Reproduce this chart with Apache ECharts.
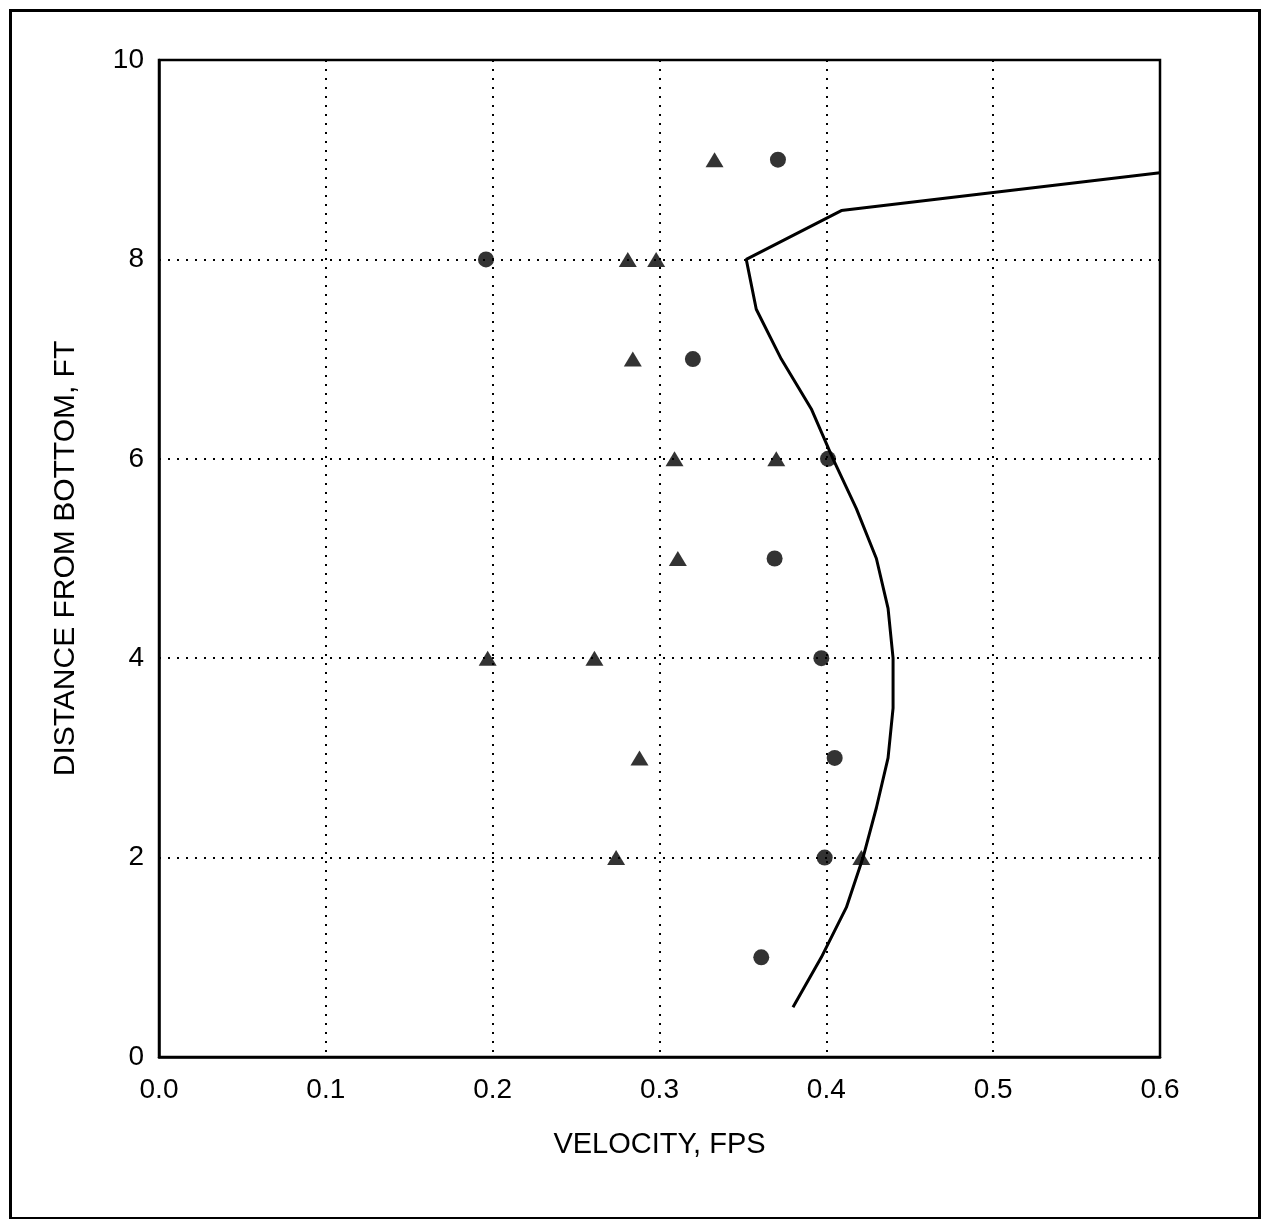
<!DOCTYPE html>
<html>
<head>
<meta charset="utf-8">
<script src="https://cdn.jsdelivr.net/npm/echarts@6/dist/echarts.min.js"></script>
<style>
html,body{margin:0;padding:0;background:#fff;}
#chart{width:1261px;height:1219px;}
</style>
</head>
<body>
<div id="chart"></div>
<script>
// Data (velocity in FPS, distance from bottom in FT)
const circleVelocity = [0.371, 0.196, 0.320, 0.401, 0.369, 0.397, 0.405, 0.399, 0.361];
const circleDistance = [9, 8, 7, 6, 5, 4, 3, 2, 1];

const triangleVelocity = [0.333, 0.281, 0.298, 0.284, 0.309, 0.370, 0.311, 0.197, 0.261, 0.288, 0.274, 0.421];
const triangleDistance = [9, 8, 8, 7, 6, 6, 5, 4, 4, 3, 2, 2];

const curveVelocity = [0.380, 0.397, 0.412, 0.422, 0.430, 0.437, 0.440, 0.440, 0.437, 0.430, 0.418, 0.404, 0.391, 0.373, 0.358, 0.352, 0.409, 0.600];
const curveDistance = [0.5, 1.0, 1.5, 2.0, 2.5, 3.0, 3.5, 4.0, 4.5, 5.0, 5.5, 6.0, 6.5, 7.0, 7.5, 8.0, 8.49, 8.87];

const xTicks = [0, 0.1, 0.2, 0.3, 0.4, 0.5, 0.6];
const yTicks = [0, 2, 4, 6, 8, 10];

const zip = (a, b) => a.map((v, i) => [v, b[i]]);

const chart = echarts.init(document.getElementById('chart'), null, {renderer: 'canvas'});
const font = 'Liberation Sans, Arial, Helvetica, sans-serif';

chart.setOption({
  animation: false,
  backgroundColor: '#ffffff',
  grid: {
    left: 159, right: 101, top: 60, bottom: 162,
    show: true, borderColor: '#000', borderWidth: 2.5, backgroundColor: 'transparent'
  },
  graphic: [{
    type: 'rect', left: 8, top: 8, z: 100,
    shape: {width: 1249, height: 1208},
    style: {fill: 'none', stroke: '#000', lineWidth: 3}
  }],
  xAxis: {
    type: 'value', min: xTicks[0], max: xTicks[xTicks.length - 1], interval: 0.1,
    name: 'VELOCITY, FPS', nameLocation: 'middle', nameGap: 73,
    nameTextStyle: {fontFamily: font, fontSize: 29, color: '#000'},
    axisLine: {show: true, lineStyle: {color: '#000', width: 2.5}},
    axisTick: {show: false},
    axisLabel: {fontFamily: font, fontSize: 28, color: '#000', margin: 19,
      formatter: v => v.toFixed(1)},
    splitLine: {show: true, lineStyle: {color: '#000', width: 2, type: [2, 7]}}
  },
  yAxis: {
    type: 'value', min: yTicks[0], max: yTicks[yTicks.length - 1], interval: 2,
    name: 'DISTANCE FROM BOTTOM, FT', nameLocation: 'middle', nameGap: 78,
    nameTextStyle: {fontFamily: font, fontSize: 30, color: '#000'},
    axisLine: {show: true, lineStyle: {color: '#000', width: 2.5}},
    axisTick: {show: false},
    axisLabel: {fontFamily: font, fontSize: 28, color: '#000', margin: 15},
    splitLine: {show: true, lineStyle: {color: '#000', width: 2, type: [2, 7]}}
  },
  series: [
    {
      type: 'line', data: zip(curveVelocity, curveDistance),
      showSymbol: false, symbol: 'none', smooth: false,
      lineStyle: {color: '#000', width: 3}, z: 3
    },
    {
      type: 'scatter', data: zip(circleVelocity, circleDistance),
      symbol: 'circle', symbolSize: 16,
      itemStyle: {color: '#000'}, z: 4
    },
    {
      type: 'scatter', data: zip(triangleVelocity, triangleDistance),
      symbol: 'triangle', symbolSize: [18, 15],
      itemStyle: {color: '#000'}, z: 4
    }
  ]
});
</script>
</body>
</html>
